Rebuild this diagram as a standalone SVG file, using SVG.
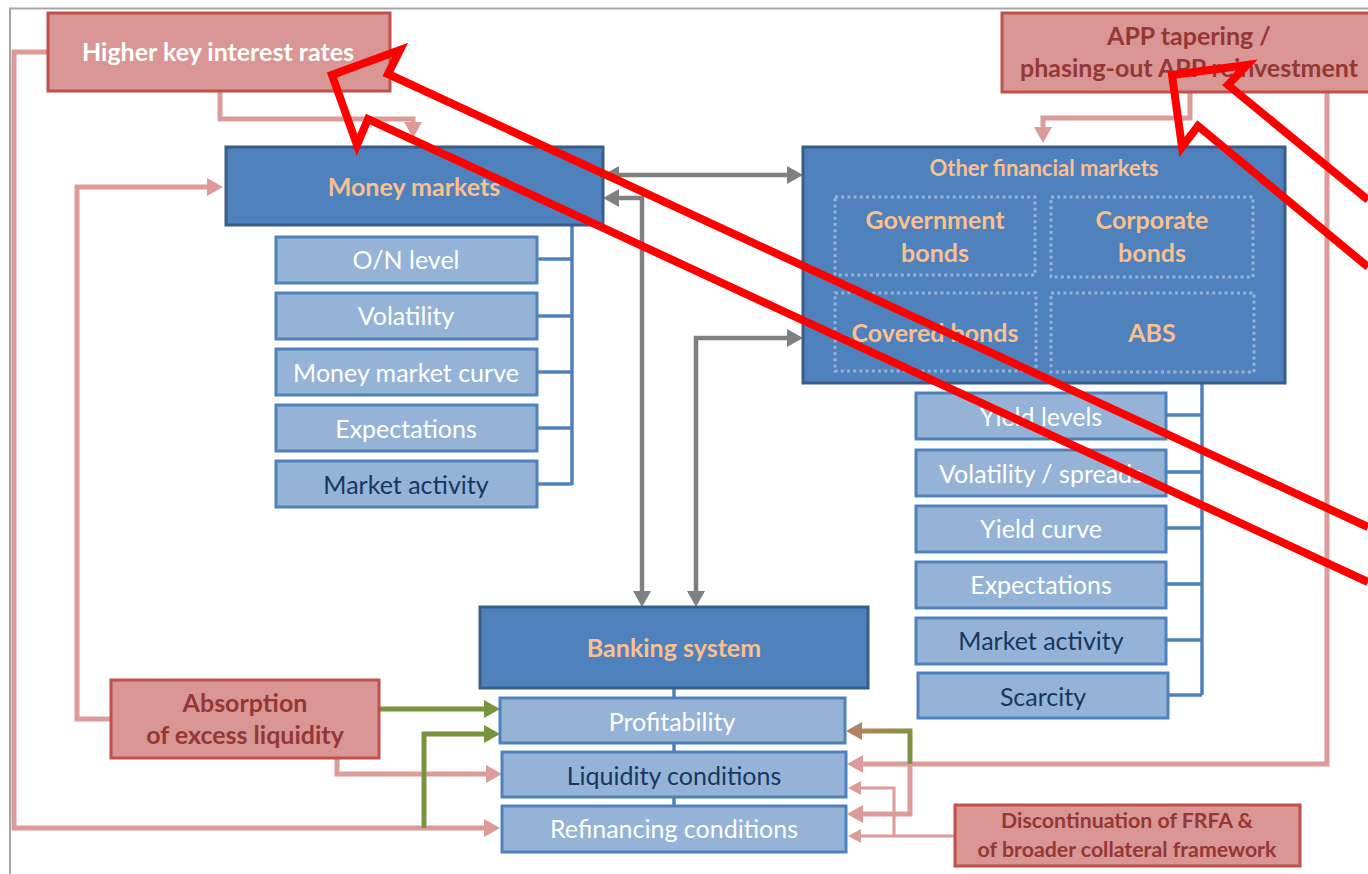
<svg xmlns="http://www.w3.org/2000/svg" width="1368" height="874" viewBox="0 0 1368 874">
<style>
text{font-family:Lato,"Liberation Sans",sans-serif;text-anchor:middle}
.pbox{fill:#d99694;stroke:#c0504d;stroke-width:3}
.bbox{fill:#4f81bd;stroke:#385d8a;stroke-width:3}
.ibox{fill:#95b3d7;stroke:#4f81bd;stroke-width:3}
.dot{fill:none;stroke:#95b3d7;stroke-width:3;stroke-dasharray:3 3.2}
.hw{font-weight:bold;font-size:25px;fill:#ffffff}
.hr{font-weight:bold;font-size:25px;fill:#953735}
.ho{font-weight:bold;font-size:25px;fill:#fac090}
.iw{font-size:25px;fill:#ffffff}
.id{font-size:25px;fill:#17375e}
.pk{fill:none;stroke:#dc9a99;stroke-width:5}
.pkt{fill:none;stroke:#dc9a99;stroke-width:3}
.gr{fill:none;stroke:#808080;stroke-width:4.5}
.gn{fill:none;stroke:#77933c;stroke-width:5}
.br{fill:none;stroke:#4f81bd;stroke-width:3.5}
.red{fill:none;stroke:#ff0000;stroke-width:8;stroke-linejoin:miter}
</style>
<defs>
<marker id="ap" markerUnits="userSpaceOnUse" markerWidth="16" markerHeight="18" refX="0" refY="9" orient="auto"><path d="M0,0 L16,9 L0,18 z" fill="#dc9a99"/></marker>
<marker id="aps" markerUnits="userSpaceOnUse" markerWidth="13" markerHeight="14" refX="0" refY="7" orient="auto"><path d="M0,0 L13,7 L0,14 z" fill="#dc9a99"/></marker>
<marker id="ag" markerUnits="userSpaceOnUse" markerWidth="16" markerHeight="18" refX="0" refY="9" orient="auto-start-reverse"><path d="M0,0 L16,9 L0,18 z" fill="#808080"/></marker>
<marker id="an" markerUnits="userSpaceOnUse" markerWidth="16" markerHeight="18" refX="0" refY="9" orient="auto"><path d="M0,0 L16,9 L0,18 z" fill="#77933c"/></marker>
<marker id="ab" markerUnits="userSpaceOnUse" markerWidth="16" markerHeight="18" refX="0" refY="9" orient="auto"><path d="M0,0 L16,9 L0,18 z" fill="#b0845e"/></marker>
<linearGradient id="gb" gradientUnits="userSpaceOnUse" x1="910" y1="764" x2="862" y2="731"><stop offset="0" stop-color="#77933c"/><stop offset="1" stop-color="#b0845e"/></linearGradient>
</defs>
<rect width="1368" height="874" fill="#ffffff"/>
<g id="frame"><path d="M10,874 V8.5 H1368" fill="none" stroke="#a6a6a6" stroke-width="2"/></g>

<g id="connectors">
<path class="pk" d="M48,52 H14 V828 H484" marker-end="url(#ap)"/>
<path class="pk" d="M220,91 V119 H413 V122" marker-end="url(#ap)"/>
<path class="pk" d="M111,719 H77 V187 H207" marker-end="url(#ap)"/>
<path class="pk" d="M337,759 V774 H486" marker-end="url(#ap)"/>
<path class="pk" d="M1190,92 V118 H1043 V127" marker-end="url(#ap)"/>
<path class="pk" d="M1327,92 V764 H863" marker-end="url(#ap)"/>
<path class="pk" d="M910,764 V814 H863" marker-end="url(#ap)"/>
<path d="M910,764 V731 H862" fill="none" stroke="url(#gb)" stroke-width="5" marker-end="url(#ab)"/>
<path class="pkt" d="M954,836 H861" marker-end="url(#aps)"/>
<path class="pkt" d="M894,836 V788 H861" marker-end="url(#aps)"/>
<path class="gn" d="M379,709 H484" marker-end="url(#an)"/>
<path class="gn" d="M424,828 V734 H484" marker-end="url(#an)"/>
<path class="gr" d="M619,175 H787" marker-start="url(#ag)" marker-end="url(#ag)"/>
<path class="gr" d="M619,198 H642 V591" marker-start="url(#ag)" marker-end="url(#ag)"/>
<path class="gr" d="M696,591 V338 H787" marker-start="url(#ag)" marker-end="url(#ag)"/>
<path class="br" d="M572,225 V485 M537,259 H572 M537,316 H572 M537,372 H572 M537,428 H572 M537,484 H572"/>
<path class="br" d="M1202,383 V695 M1166,415 H1202 M1166,472 H1202 M1166,528 H1202 M1166,584 H1202 M1166,640 H1202 M1168,695 H1202"/>
<path class="br" d="M674,688 V698 M674,743 V752 M674,797 V806"/>
</g>

<g id="higher-key-rates"><rect class="pbox" x="48" y="13" width="342" height="78"/><text class="hw" x="218" y="61">Higher key interest rates</text></g>
<g id="app-tapering"><rect class="pbox" x="1002" y="13" width="372" height="79"/><text class="hr" x="1189" y="45">APP tapering /</text><text class="hr" x="1189" y="77">phasing-out APP reinvestment</text></g>
<g id="money-markets"><rect class="bbox" x="226" y="147" width="377" height="78"/><text class="ho" x="414" y="196">Money markets</text></g>
<g id="other-financial-markets"><rect class="bbox" x="803" y="147" width="482" height="236"/>
<text class="ho" x="1044" y="176" style="font-size:22px">Other financial markets</text>
<rect class="dot" x="835" y="197" width="200" height="78"/><rect class="dot" x="1051" y="197" width="202" height="80"/>
<rect class="dot" x="835" y="293" width="201" height="78"/><rect class="dot" x="1051" y="293" width="203" height="79"/>
<text class="ho" x="935" y="229">Government</text><text class="ho" x="935" y="262">bonds</text>
<text class="ho" x="1152" y="229">Corporate</text><text class="ho" x="1152" y="262">bonds</text>
<text class="ho" x="935" y="342">Covered bonds</text><text class="ho" x="1152" y="342">ABS</text></g>

<g id="mm-on-level"><rect class="ibox" x="276" y="237" width="261" height="46"/><text class="iw" x="406" y="269">O/N level</text></g>
<g id="mm-volatility"><rect class="ibox" x="276" y="293" width="261" height="46"/><text class="iw" x="406" y="325">Volatility</text></g>
<g id="mm-curve"><rect class="ibox" x="276" y="349" width="261" height="46"/><text class="iw" x="406" y="382">Money market curve</text></g>
<g id="mm-expectations"><rect class="ibox" x="276" y="405" width="261" height="46"/><text class="iw" x="406" y="438">Expectations</text></g>
<g id="mm-activity"><rect class="ibox" x="276" y="461" width="261" height="46"/><text class="id" x="406" y="494">Market activity</text></g>

<g id="fm-yield-levels"><rect class="ibox" x="916" y="393" width="250" height="46"/><text class="iw" x="1041" y="426">Yield levels</text></g>
<g id="fm-volatility"><rect class="ibox" x="916" y="450" width="250" height="46"/><text class="iw" x="1041" y="483">Volatility / spreads</text></g>
<g id="fm-yield-curve"><rect class="ibox" x="916" y="506" width="250" height="46"/><text class="iw" x="1041" y="538">Yield curve</text></g>
<g id="fm-expectations"><rect class="ibox" x="916" y="562" width="250" height="46"/><text class="iw" x="1041" y="594">Expectations</text></g>
<g id="fm-activity"><rect class="ibox" x="916" y="618" width="250" height="46"/><text class="id" x="1041" y="650">Market activity</text></g>
<g id="fm-scarcity"><rect class="ibox" x="918" y="673" width="250" height="45"/><text class="id" x="1043" y="706">Scarcity</text></g>

<g id="banking-system"><rect class="bbox" x="480" y="607" width="388" height="81"/><text class="ho" x="674" y="657">Banking system</text></g>
<g id="bank-profitability"><rect class="ibox" x="500" y="698" width="345" height="45"/><text class="iw" x="672" y="731">Profitability</text></g>
<g id="bank-liquidity"><rect class="ibox" x="502" y="752" width="344" height="45"/><text class="id" x="674" y="785">Liquidity conditions</text></g>
<g id="bank-refinancing"><rect class="ibox" x="502" y="806" width="344" height="46"/><text class="iw" x="674" y="838">Refinancing conditions</text></g>

<g id="absorption"><rect class="pbox" x="111" y="680" width="268" height="78"/><text class="hr" x="245" y="712">Absorption</text><text class="hr" x="245" y="744">of excess liquidity</text></g>
<g id="discontinuation"><rect class="pbox" x="955" y="805" width="345" height="61"/><text class="hr" x="1127" y="828" style="font-size:21.3px">Discontinuation of FRFA &amp;</text><text class="hr" x="1127" y="857" style="font-size:21.3px">of broader collateral framework</text></g>

<g id="annotations">
<path class="red" d="M1368,527 L388,74 L400,50 L332,75 L357,145 L368,119 L1368,582"/>
<path class="red" d="M1368,200 L1228,85 L1247,65 L1172,75 L1182,147 L1198,126 L1368,267"/>
</g>
</svg>
